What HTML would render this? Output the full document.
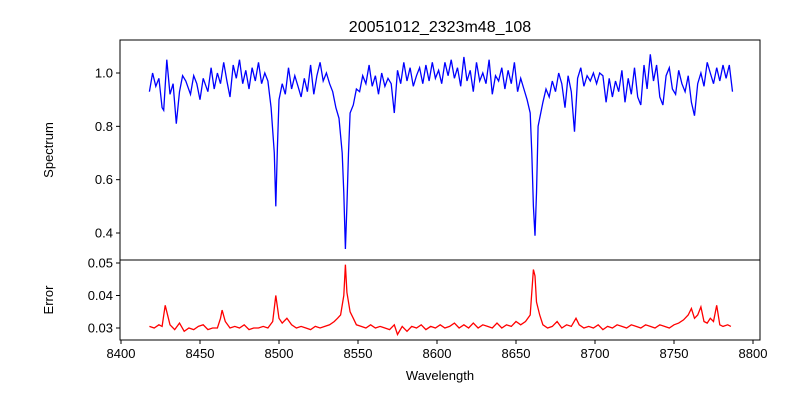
<!DOCTYPE html>
<html><head><meta charset="utf-8"><style>body{margin:0;background:#fff}svg text{font-family:"Liberation Sans",sans-serif;fill:#000}</style></head>
<body>
<svg id="c" width="800" height="400" xmlns="http://www.w3.org/2000/svg"></svg>
<script>
const specW=[8418,8420,8422,8424,8426,8427,8429,8431,8433,8435,8437,8439,8441,8444,8446,8448,8450,8452,8455,8457,8459,8461,8463,8465,8467,8469,8471,8473,8475,8477,8479,8481,8483,8485,8487,8489,8491,8493,8495,8497,8498,8499,8500,8502,8504,8506,8508,8510,8512,8514,8516,8518,8520,8522,8524,8526,8528,8530,8532,8534,8536,8538,8540,8541,8542,8543,8544,8545,8547,8549,8551,8553,8555,8557,8559,8561,8563,8565,8567,8569,8571,8573,8575,8577,8579,8581,8583,8585,8587,8589,8591,8593,8595,8597,8599,8601,8603,8605,8607,8609,8611,8613,8615,8617,8619,8621,8623,8625,8627,8629,8631,8633,8635,8637,8639,8641,8643,8645,8647,8649,8651,8653,8655,8657,8659,8660,8661,8662,8663,8664,8665,8667,8669,8671,8673,8675,8677,8679,8681,8683,8685,8687,8689,8691,8693,8695,8697,8699,8701,8703,8705,8707,8709,8711,8713,8715,8717,8719,8721,8723,8725,8727,8729,8731,8733,8735,8737,8739,8741,8743,8745,8747,8749,8751,8753,8755,8757,8759,8761,8763,8765,8767,8769,8771,8773,8775,8777,8779,8781,8783,8785,8787];
const specV=[.93,1.0,.95,.98,.87,.86,1.05,.92,.96,.81,.93,.99,.97,.92,.99,.96,.90,.98,.93,1.02,.94,1.00,.96,1.04,.97,.91,1.03,.98,1.05,.96,1.01,.94,1.02,.97,1.04,.96,1.00,.97,.87,.70,.50,.72,.90,.96,.92,1.02,.94,.99,.95,.91,.98,.93,1.03,.92,.99,1.04,.97,1.00,.96,.93,.87,.83,.70,.55,.34,.50,.70,.85,.88,.94,.93,.99,.96,1.03,.95,.99,.92,1.00,.95,.98,.96,.85,1.01,.96,1.04,.97,1.02,.95,.99,1.02,.96,1.03,.97,1.04,.98,1.01,.96,1.04,.99,1.05,.98,1.02,.95,1.06,.97,1.01,.93,1.04,.97,1.00,.96,1.05,.92,.99,.97,1.02,.94,1.01,.96,1.04,.93,.98,.94,.90,.85,.70,.50,.39,.55,.80,.83,.89,.94,.91,.97,.93,1.00,.96,.87,.99,.93,.78,.98,1.02,.95,.99,.97,1.00,.96,1.00,.99,.89,.98,.91,.97,.93,1.01,.89,.98,.92,1.02,.91,.88,1.03,.94,1.07,.97,1.03,.91,.88,.99,1.02,.94,.92,1.01,.96,.93,.99,.89,.84,.96,1.00,.95,1.04,1.00,.96,1.02,.97,1.03,.98,1.03,.93];
const errW=[8418,8421,8424,8426,8428,8429,8431,8434,8437,8440,8443,8446,8449,8452,8455,8458,8461,8463,8464,8466,8469,8472,8475,8478,8481,8484,8487,8490,8493,8496,8498,8500,8502,8505,8508,8511,8514,8517,8520,8523,8526,8529,8532,8535,8537,8539,8541,8542,8543,8545,8547,8549,8552,8555,8558,8561,8564,8567,8570,8573,8575,8578,8581,8584,8587,8590,8593,8596,8599,8602,8605,8608,8611,8614,8617,8620,8623,8626,8629,8632,8635,8638,8641,8644,8647,8650,8653,8656,8659,8661,8662,8663,8665,8667,8670,8673,8676,8679,8682,8685,8688,8690,8693,8696,8699,8702,8705,8708,8711,8714,8717,8720,8723,8726,8729,8732,8735,8738,8741,8744,8747,8750,8753,8756,8759,8761,8763,8765,8767,8769,8771,8773,8775,8777,8779,8781,8784,8786];
const errV=[.0305,.030,.031,.0305,.037,.035,.031,.0295,.0315,.029,.030,.0295,.0305,.031,.0295,.030,.030,.033,.0355,.032,.030,.0305,.030,.031,.0295,.030,.030,.0305,.030,.032,.040,.033,.0315,.033,.031,.030,.0305,.030,.0295,.0305,.030,.0305,.031,.032,.033,.034,.040,.0495,.041,.035,.033,.031,.0305,.030,.031,.030,.0305,.030,.0295,.031,.028,.0305,.029,.0305,.030,.031,.0295,.0305,.030,.031,.030,.0305,.0315,.030,.031,.030,.0315,.030,.031,.0305,.030,.0315,.030,.031,.0305,.032,.031,.032,.034,.048,.046,.038,.034,.031,.030,.0305,.032,.030,.031,.0305,.033,.031,.030,.0305,.030,.031,.0295,.0305,.030,.031,.0305,.030,.031,.0305,.030,.031,.0305,.030,.031,.0305,.030,.031,.0315,.0325,.034,.036,.033,.034,.0365,.032,.0315,.033,.032,.037,.031,.0305,.031,.0305];
const xTicks=[8400,8450,8500,8550,8600,8650,8700,8750,8800];
const specTicks=[0.4,0.6,0.8,1.0];
const errTicks=[0.03,0.04,0.05];

const svg=document.getElementById('c');const NS='http://www.w3.org/2000/svg';
const X=w=>121+(w-8400)*1.58;
const YS=v=>73+(1-v)*266.67;
const YE=v=>328-(v-0.03)*3250;
function mk(t,a,txt){const e=document.createElementNS(NS,t);for(const k in a)e.setAttribute(k,a[k]);if(txt!=null)e.textContent=txt;svg.appendChild(e);return e;}
let e;
e=mk('rect',{x:120,y:40,width:640,height:220,fill:'none',stroke:'#000','stroke-width':1});


e=mk('rect',{x:120,y:260,width:640,height:80,fill:'none',stroke:'#000','stroke-width':1});


e=mk('polyline',{points:specW.map((w,i)=>X(w).toFixed(1)+','+YS(specV[i]).toFixed(1)).join(' '),fill:'none',stroke:'#0000ff','stroke-width':1.3});


e=mk('polyline',{points:errW.map((w,i)=>X(w).toFixed(1)+','+YE(errV[i]).toFixed(1)).join(' '),fill:'none',stroke:'#ff0000','stroke-width':1.3});


specTicks.forEach(v=>{const y=YS(v);mk('line',{x1:116,x2:120,y1:y,y2:y,stroke:'#000'});
e=mk('text',{x:113,y:y+4.5,'text-anchor':'end','font-size':13},v.toFixed(1));

});
errTicks.forEach(v=>{const y=YE(v);mk('line',{x1:116,x2:120,y1:y,y2:y,stroke:'#000'});
e=mk('text',{x:113,y:y+4.5,'text-anchor':'end','font-size':13},v.toFixed(2));

});
xTicks.forEach(w=>{const x=X(w);mk('line',{x1:x,x2:x,y1:340,y2:344,stroke:'#000'});
e=mk('text',{x:x,y:358,'text-anchor':'middle','font-size':13},w);

});
e=mk('text',{x:440,y:32,'text-anchor':'middle','font-size':16},'20051012_2323m48_108');


e=mk('text',{x:440,y:380,'text-anchor':'middle','font-size':13},'Wavelength');


e=mk('text',{x:53,y:150,'text-anchor':'middle','font-size':13,transform:'rotate(-90 53 150)'},'Spectrum');


e=mk('text',{x:53,y:300,'text-anchor':'middle','font-size':13,transform:'rotate(-90 53 300)'},'Error');


</script>
</body></html>
